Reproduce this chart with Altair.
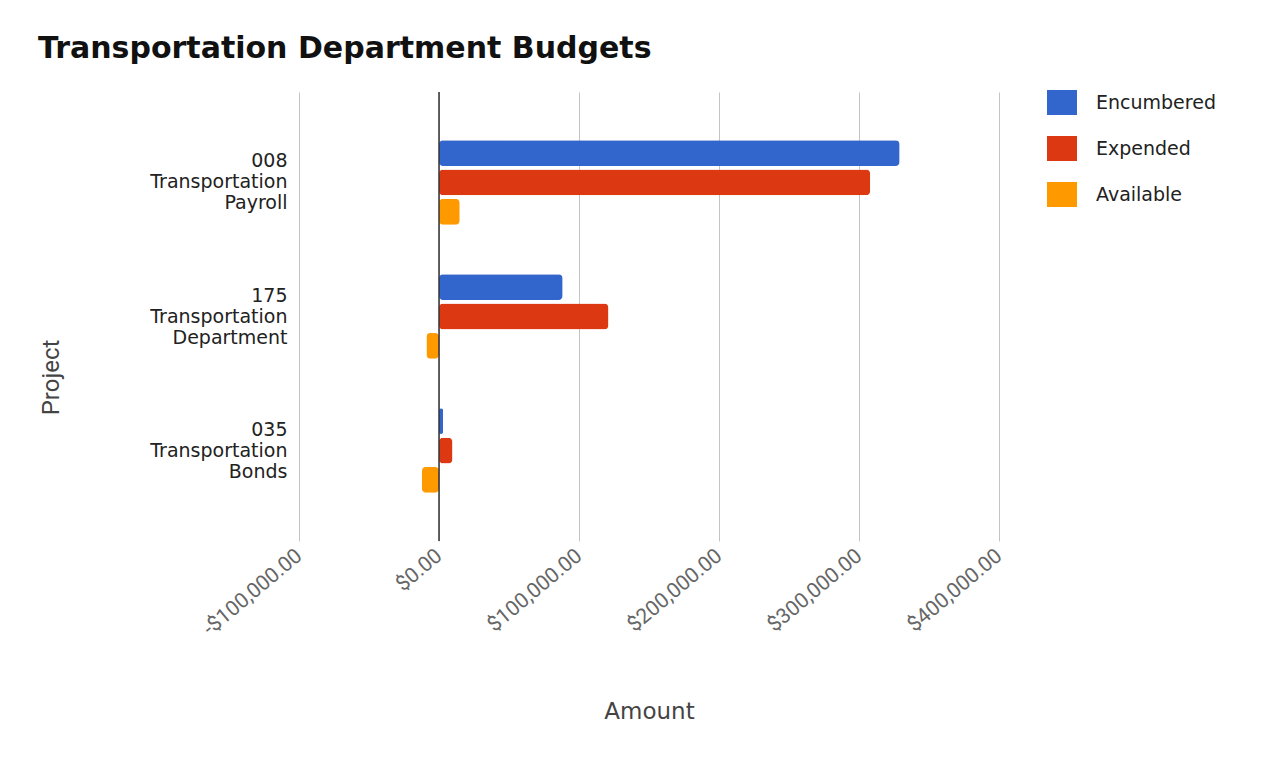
import altair as alt
import pandas as pd

projects = ["008 Transportation Payroll", "175 Transportation Department", "035 Transportation Bonds"]
series = ["Encumbered", "Expended", "Available"]
colors = ["#3366cc", "#dc3912", "#ff9900"]
encumbered = [329000, 88300, 2900]
expended = [308000, 121000, 9600]
available = [14800, -9000, -12200]
tick_values = [-100000, 0, 100000, 200000, 300000, 400000]

rows = []
for i, p in enumerate(projects):
    rows.append({"Project": p, "Series": "Encumbered", "Amount": encumbered[i]})
    rows.append({"Project": p, "Series": "Expended", "Amount": expended[i]})
    rows.append({"Project": p, "Series": "Available", "Amount": available[i]})
df = pd.DataFrame(rows)

xscale = alt.Scale(domain=[-100000, 400000], nice=False, zero=False)

bars = alt.Chart(df).mark_bar(cornerRadius=4).encode(
    x=alt.X(
        "Amount:Q",
        scale=xscale,
        axis=alt.Axis(
            values=tick_values,
            format="$,.2f",
            labelExpr="replace(datum.label, '\u2212', '-')",
            labelAngle=-40,
            labelAlign="right",
            labelBaseline="middle",
            labelPadding=12,
            labelFont="Roboto",
            labelFontSize=21,
            labelColor="#666666",
            grid=True,
            gridColor="#c4c4c4",
            gridWidth=1,
            domain=False,
            ticks=False,
            title="Amount",
            titleFont="DejaVu Sans",
            titleFontSize=23,
            titleFontWeight="normal",
            titleColor="#444444",
            titleY=177,
            titleBaseline="alphabetic",
        ),
    ),
    y=alt.Y(
        "Project:N",
        sort=projects,
        scale=alt.Scale(paddingInner=0.37, paddingOuter=0.36),
        axis=alt.Axis(
            labelExpr="split(datum.label, ' ')",
            labelFont="DejaVu Sans",
            labelFontSize=19,
            labelLineHeight=21,
            labelColor="#222222",
            labelPadding=12,
            labelOffset=-21,
            labelBaseline="middle",
            labelAlign="right",
            labelLimit=300,
            domain=False,
            ticks=False,
            grid=False,
            title="Project",
            titleFont="Roboto",
            titleFontSize=24,
            titleFontWeight="normal",
            titleColor="#444444",
            titleX=-241,
            titleY=285,
            titleBaseline="alphabetic",
            titleAngle=-90,
        ),
    ),
    yOffset=alt.YOffset("Series:N", sort=series, scale=alt.Scale(paddingInner=0.12, paddingOuter=0)),
    color=alt.Color(
        "Series:N",
        sort=series,
        scale=alt.Scale(domain=series, range=colors),
        legend=alt.Legend(
            orient="none",
            legendX=750.5,
            legendY=-2,
            title=None,
            symbolType="M-1.2,-1H1.2V1H-1.2Z",
            symbolSize=625,
            symbolStrokeWidth=0,
            symbolOpacity=1,
            labelFont="DejaVu Sans",
            labelFontSize=19,
            labelColor="#222222",
            labelOffset=21.5,
            rowPadding=21,
            labelLimit=300,
        ),
    ),
)

zero = alt.Chart(pd.DataFrame({"z": [0]})).mark_rule(color="#333333", strokeWidth=1.5).encode(
    x=alt.X("z:Q", scale=xscale, title="Amount")
)

chart = alt.layer(bars, zero).properties(
    width=700,
    height=449,
    background="white",
    padding={"left": 291, "top": 84, "right": 269, "bottom": 216},
    autosize=alt.AutoSizeParams(type="none"),
    title=alt.Title(
        "Transportation Department Budgets",
        anchor="start",
        frame="group",
        font="DejaVu Sans",
        fontSize=30,
        fontWeight="bold",
        color="#111111",
        dx=-261,
        dy=-2,
        offset=0,
        baseline="alphabetic",
    ),
).configure_view(stroke=None)

chart.save("out.html", embed_options={"renderer": "svg", "actions": False})
